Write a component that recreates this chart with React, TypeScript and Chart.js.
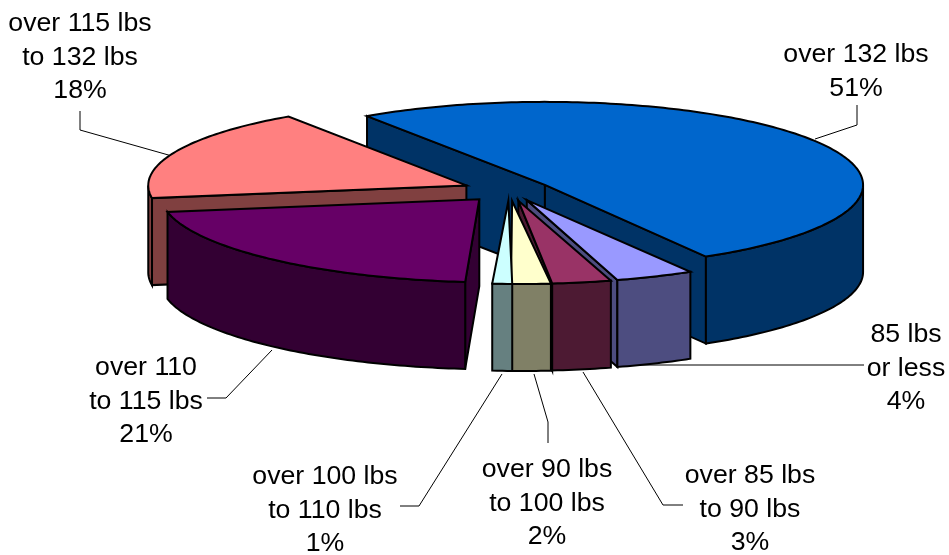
import React, { useEffect, useRef } from "react";
import { Chart, registerables } from "chart.js";

Chart.register(...registerables);

// Weight classes, clockwise from the largest slice.
const categories: string[][] = [
  ["over 132 lbs"],
  ["85 lbs", "or less"],
  ["over 85 lbs", "to 90 lbs"],
  ["over 90 lbs", "to 100 lbs"],
  ["over 100 lbs", "to 110 lbs"],
  ["over 110", "to 115 lbs"],
  ["over 115 lbs", "to 132 lbs"],
];
const shares: number[] = [51, 4, 3, 2, 1, 21, 18];
const topColors: string[] = ["#0066CC", "#9999FF", "#993366", "#FFFFCC", "#CCFFFF", "#660066", "#FF8080"];

// Later slices in this order cover the cut faces of earlier ones.
const paintOrder = [0, 6, 5, 1, 2, 3, 4];

// Tilted-pie projection applied to the arc elements.
const X_STRETCH = 1.67;
const Y_STRETCH = 0.436;
const DEPTH = 87;
// How far each slice is pulled from the centre, and how far its front edge leans sideways.
const explode = [0.126, 0.126, 0.126, 0.126, 0.126, 0.145, 0.153];
const lean = [0, 3, 5, 10, 15, 17, 0];

const labelPlacement = [
  { x: 856, y: 62, leader: [[857, 105], [857, 125], [815, 139]] },
  { x: 906, y: 342, leader: [[864, 365], [640, 365]] },
  { x: 750, y: 483, leader: [[683, 505], [663, 505], [583, 372]] },
  { x: 547, y: 477, leader: [[548, 443], [548, 422], [534, 374]] },
  { x: 325, y: 484, leader: [[400, 506], [419, 506], [502, 374]] },
  { x: 146, y: 375, leader: [[207, 398], [226, 398], [272, 350]] },
  { x: 80, y: 31, leader: [[80, 111], [80, 130], [172, 156]] },
];
const LINE_STEP = 33.7;

const halve = (hex: string) => {
  const n = parseInt(hex.slice(1), 16);
  const c = [(n >> 16) & 255, (n >> 8) & 255, n & 255].map((v) => Math.round(v / 2));
  return `rgb(${c[0]},${c[1]},${c[2]})`;
};

const tiltedPie = {
  id: "tiltedPie",
  beforeDatasetsDraw(chart: any) {
    const ctx: CanvasRenderingContext2D = chart.ctx;
    const arcs = chart.getDatasetMeta(0).data;

    // Leader lines sit behind the slices.
    ctx.save();
    ctx.strokeStyle = "#000";
    ctx.lineWidth = 1;
    labelPlacement.forEach((p) => {
      ctx.beginPath();
      p.leader.forEach(([x, y], i) => (i ? ctx.lineTo(x, y) : ctx.moveTo(x, y)));
      ctx.stroke();
    });
    ctx.restore();

    ctx.save();
    ctx.lineWidth = 2;
    ctx.strokeStyle = "#000";
    ctx.lineJoin = "miter";
    paintOrder.forEach((i) => {
      const { x, y, startAngle: a0, endAngle: a1, outerRadius: r } = arcs[i].getProps(
        ["x", "y", "startAngle", "endAngle", "outerRadius"],
        true
      );
      const mid = (a0 + a1) / 2;
      const rx = r * X_STRETCH;
      const ry = r * Y_STRETCH;
      const cx = x + Math.cos(mid) * rx * explode[i];
      const cy = y + Math.sin(mid) * ry * explode[i];
      const px = (a: number) => cx + Math.cos(a) * rx + Math.sin(a) * lean[i];
      const py = (a: number) => cy + Math.sin(a) * ry;
      // Traces the rim between two angles, at a given drop below the top face.
      const rim = (from: number, to: number, drop: number) => {
        const steps = Math.max(2, Math.ceil((Math.abs(to - from) * 180) / Math.PI));
        for (let s = 0; s <= steps; s++) {
          const a = from + ((to - from) * s) / steps;
          ctx.lineTo(px(a), py(a) + drop);
        }
      };
      const paint = (fill: string) => {
        ctx.closePath();
        ctx.fillStyle = fill;
        ctx.fill();
        ctx.stroke();
      };
      const side = halve(topColors[i]);

      const cutFace = (a: number) => {
        ctx.beginPath();
        ctx.moveTo(cx, cy);
        ctx.lineTo(px(a), py(a));
        ctx.lineTo(px(a), py(a) + DEPTH);
        ctx.lineTo(cx, cy + DEPTH);
        paint(side);
      };
      // A cut face shows only when its outer edge lies on the open side of the tip.
      if (px(a0) < cx) cutFace(a0);
      if (px(a1) > cx) cutFace(a1);

      // Outer wall: only the part of the rim on the near half of the ellipse.
      for (let k = -1; k <= 1; k++) {
        const lo = Math.max(a0, 2 * Math.PI * k);
        const hi = Math.min(a1, Math.PI + 2 * Math.PI * k);
        if (hi > lo) {
          ctx.beginPath();
          rim(lo, hi, 0);
          rim(hi, lo, DEPTH);
          paint(side);
        }
      }

      // Top face.
      ctx.beginPath();
      ctx.moveTo(cx, cy);
      rim(a0, a1, 0);
      paint(topColors[i]);
    });
    ctx.restore();

    // Category and share labels.
    ctx.save();
    ctx.fillStyle = "#000";
    ctx.font = '26.7px "Liberation Sans"';
    ctx.textAlign = "center";
    ctx.textBaseline = "alphabetic";
    labelPlacement.forEach((p, i) => {
      [...categories[i], `${shares[i]}%`].forEach((line, n) => {
        ctx.fillText(line, p.x, p.y + n * LINE_STEP);
      });
    });
    ctx.restore();

    return false;
  },
};

export default function App() {
  const ref = useRef<HTMLCanvasElement>(null);

  useEffect(() => {
    const chart = new Chart(ref.current as HTMLCanvasElement, {
      type: "pie",
      data: {
        labels: categories.map((c) => c.join(" ")),
        datasets: [{ data: shares, backgroundColor: topColors, borderWidth: 0 }],
      },
      options: {
        responsive: false,
        animation: false,
        rotation: -34,
        layout: { padding: { left: 73, right: 0, top: 0, bottom: 174 } },
        plugins: { legend: { display: false }, tooltip: { enabled: false } },
      },
      plugins: [tiltedPie],
    } as any);
    return () => chart.destroy();
  }, []);

  return (
    <div style={{ position: "fixed", left: 0, top: 0, width: 949, height: 555, background: "#fff" }}>
      <canvas ref={ref} width={949} height={555} style={{ display: "block" }} />
    </div>
  );
}
